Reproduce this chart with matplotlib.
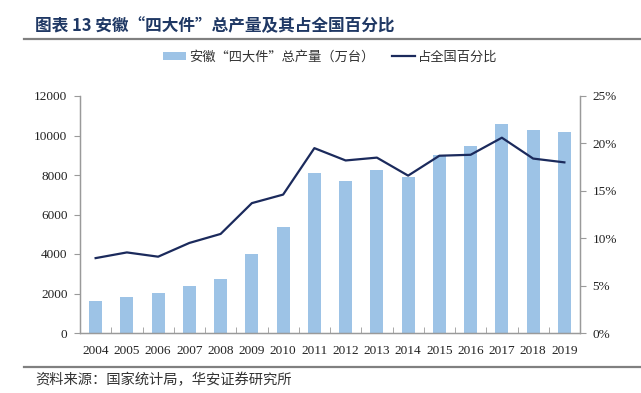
import matplotlib
matplotlib.use("Agg")
import matplotlib.pyplot as plt
from matplotlib.lines import Line2D
from matplotlib.patches import Patch
from matplotlib.ticker import FuncFormatter, MultipleLocator, FixedLocator
import numpy as np

years = ["2004", "2005", "2006", "2007", "2008", "2009", "2010", "2011",
         "2012", "2013", "2014", "2015", "2016", "2017", "2018", "2019"]
production = [1600, 1840, 2010, 2400, 2730, 3980, 5380, 8120,
              7700, 8250, 7920, 9000, 9470, 10600, 10280, 10160]
share_pct = [7.9, 8.5, 8.05, 9.5, 10.45, 13.7, 14.6, 19.5,
             18.2, 18.5, 16.6, 18.7, 18.8, 20.6, 18.4, 18.0]

title = "图表 13 安徽“四大件”总产量及其占全国百分比"
bar_label = "安徽“四大件”总产量（万台）"
line_label = "占全国百分比"
source = "资料来源：国家统计局，华安证券研究所"

CJK = ["Noto Sans CJK SC", "DejaVu Sans"]
SERIF = ["Liberation Serif", "DejaVu Serif"]

W, H = 641, 393
fig = plt.figure(figsize=(W / 100, H / 100), dpi=100)
fig.patch.set_facecolor("white")

ax_l, ax_r, ax_t, ax_b = 80, 580, 96, 333
ax = fig.add_axes([ax_l / W, 1 - ax_b / H, (ax_r - ax_l) / W, (ax_b - ax_t) / H])
ax2 = ax.twinx()

x = np.arange(len(years))
bar_color = "#9DC3E6"
line_color = "#1B2A5C"
spine_color = "#9A9A9A"

ax.bar(x, production, width=0.42, color=bar_color, zorder=2)
ax2.plot(x, share_pct, color=line_color, lw=1.6, zorder=3)

ax.set_xlim(-0.5, len(years) - 0.5)
ax.set_ylim(0, 12000)
ax2.set_ylim(0, 25)
ax.yaxis.set_major_locator(MultipleLocator(2000))
ax2.yaxis.set_major_locator(MultipleLocator(5))
ax2.yaxis.set_major_formatter(FuncFormatter(lambda v, p: f"{int(v)}%"))

ax.set_xticks(x)
ax.set_xticklabels(years)
ax.xaxis.set_minor_locator(FixedLocator(np.arange(-0.5, len(years), 1.0)))
ax.tick_params(axis="x", which="major", length=0, pad=9)
ax.tick_params(axis="x", which="minor", direction="in", length=4, color=spine_color)
ax.tick_params(axis="y", direction="out", length=4, color=spine_color, pad=5)
ax2.tick_params(axis="y", direction="out", length=4, color=spine_color, pad=5)

for a in (ax, ax2):
    a.spines["top"].set_visible(False)
    for s in ("left", "right", "bottom"):
        a.spines[s].set_color(spine_color)
        a.spines[s].set_linewidth(0.9)
    for lab in a.get_xticklabels() + a.get_yticklabels():
        lab.set_fontfamily(SERIF)
        lab.set_fontsize(9.5)
        lab.set_color("#222222")

ax.set_zorder(ax2.get_zorder() - 1)
ax2.patch.set_visible(False)
ax.patch.set_visible(False)

# title and rules
fig.text(35 / W, 1 - 26 / H, title, fontsize=12, fontweight="bold",
         color="#1F3864", family=CJK, va="center", ha="left")
fig.add_artist(Line2D([24 / W, 1.0], [1 - 39 / H] * 2, color="#808080", lw=1.6))
fig.add_artist(Line2D([24 / W, 1.0], [1 - 367 / H] * 2, color="#808080", lw=1.6))
fig.text(35 / W, 1 - 380 / H, source, fontsize=10.3, color="#333333",
         family=CJK, va="center", ha="left")

handles = [Patch(facecolor=bar_color, edgecolor="none"),
           Line2D([0], [0], color=line_color, lw=1.6)]
fig.legend(handles, [bar_label, line_label], loc="center",
           bbox_to_anchor=(330 / W, 1 - 57 / H), ncol=2, frameon=False,
           prop={"family": CJK, "size": 9.5}, handlelength=1.75,
           handleheight=0.55, handletextpad=0.25, columnspacing=1.3,
           labelcolor="#333333")

fig.savefig("out.png", dpi=100, facecolor="white")
